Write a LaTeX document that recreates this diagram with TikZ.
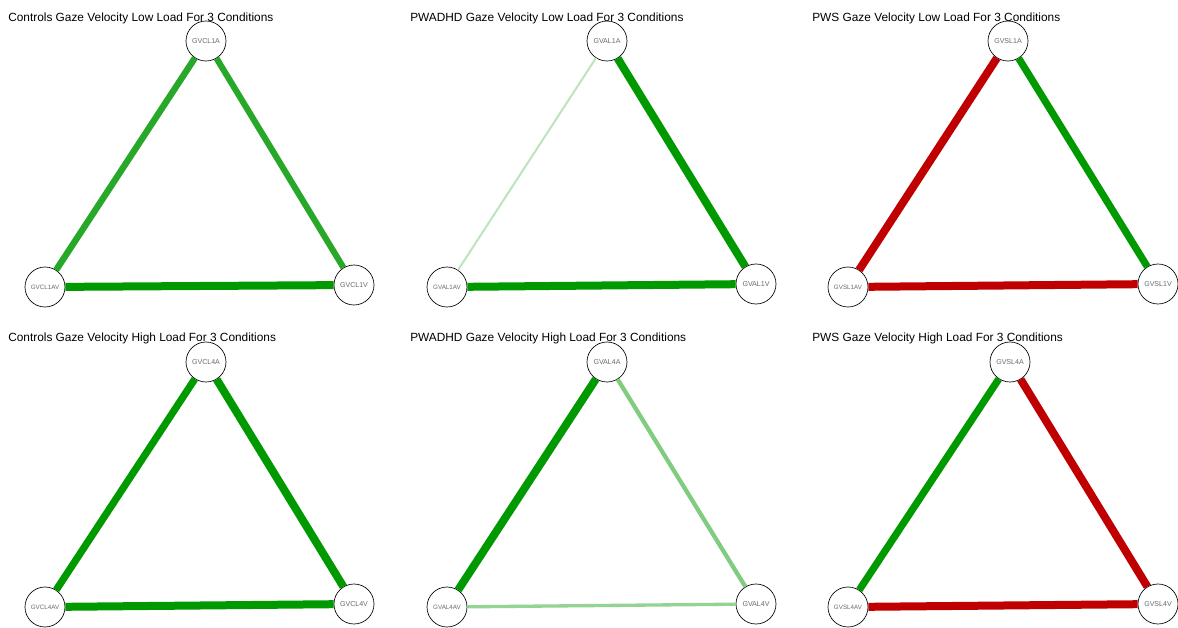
\documentclass[tikz,border=0pt]{standalone}
\usepackage{fontspec}
\setmainfont{Liberation Sans}
\definecolor{gdark}{HTML}{009A00}
\definecolor{gmid}{HTML}{28A828}
\definecolor{gpale}{HTML}{BDE5BD}
\definecolor{gsoft}{HTML}{80CC80}
\definecolor{rdark}{HTML}{C00000}
\definecolor{lblgrey}{RGB}{105,105,115}
\tikzset{
  vnode/.style={circle, draw=black, line width=0.5pt, fill=white, minimum size=30pt,
                inner sep=0pt, font=\fontsize{5.3}{6}\selectfont, text=lblgrey},
  smalllbl/.style={font=\fontsize{4.7}{5}\selectfont},
  ptitle/.style={anchor=west, inner sep=0pt, font=\fontsize{8.9}{10}\selectfont},
  link/.style={draw=#1, line cap=butt},
}
\begin{document}
\begin{tikzpicture}[x=0.75pt, y=-0.75pt]
  \useasboundingbox[fill=white] (0,0) rectangle (1178,628);

  % controls, low load
  \node[vnode] (cl1a) at (206,41) {GVCL1A};
  \node[vnode, smalllbl] (cl1av) at (45,287) {GVCL1AV};
  \node[vnode] (cl1v) at (354,285) {GVCL1V};
  \draw[link=gmid, line width=4.8pt] (cl1a) -- (cl1av);
  \draw[link=gmid, line width=4.6pt] (cl1a) -- (cl1v);
  \draw[link=gdark, line width=6pt] (cl1av) -- (cl1v);
  \node[ptitle] (t1) at (8,18) {Controls Gaze Velocity Low Load For 3 Conditions};

  % pwadhd, low load
  \node[vnode] (al1a) at (607,41) {GVAL1A};
  \node[vnode, smalllbl] (al1av) at (447,287) {GVAL1AV};
  \node[vnode] (al1v) at (756,284) {GVAL1V};
  \draw[link=gpale, line width=1.5pt] (al1a) -- (al1av);
  \draw[link=gdark, line width=6pt] (al1a) -- (al1v);
  \draw[link=gdark, line width=6pt] (al1av) -- (al1v);
  \node[ptitle] (t2) at (410,18) {PWADHD Gaze Velocity Low Load For 3 Conditions};

  % pws, low load
  \node[vnode] (sl1a) at (1008,41) {GVSL1A};
  \node[vnode, smalllbl] (sl1av) at (848,287) {GVSL1AV};
  \node[vnode] (sl1v) at (1158,284) {GVSL1V};
  \draw[link=rdark, line width=6pt] (sl1a) -- (sl1av);
  \draw[link=gdark, line width=5.4pt] (sl1a) -- (sl1v);
  \draw[link=rdark, line width=6pt] (sl1av) -- (sl1v);
  \node[ptitle] (t3) at (812,18) {PWS Gaze Velocity Low Load For 3 Conditions};

  % controls, high load
  \node[vnode] (cl4a) at (206,362) {GVCL4A};
  \node[vnode, smalllbl] (cl4av) at (45,607) {GVCL4AV};
  \node[vnode] (cl4v) at (354,604) {GVCL4V};
  \draw[link=gdark, line width=5.4pt] (cl4a) -- (cl4av);
  \draw[link=gdark, line width=6pt] (cl4a) -- (cl4v);
  \draw[link=gdark, line width=6pt] (cl4av) -- (cl4v);
  \node[ptitle] (t4) at (8,338) {Controls Gaze Velocity High Load For 3 Conditions};

  % pwadhd, high load
  \node[vnode] (al4a) at (607,362) {GVAL4A};
  \node[vnode, smalllbl] (al4av) at (447,607) {GVAL4AV};
  \node[vnode] (al4v) at (756,604) {GVAL4V};
  \draw[link=gdark, line width=6pt] (al4a) -- (al4av);
  \draw[link=gsoft, line width=3.2pt] (al4a) -- (al4v);
  \draw[link=gsoft!85!white, line width=2.5pt] (al4av) -- (al4v);
  \node[ptitle] (t5) at (410,338) {PWADHD Gaze Velocity High Load For 3 Conditions};

  % pws, high load
  \node[vnode] (sl4a) at (1010,362) {GVSL4A};
  \node[vnode, smalllbl] (sl4av) at (848,607) {GVSL4AV};
  \node[vnode] (sl4v) at (1158,604) {GVSL4V};
  \draw[link=gdark, line width=5.4pt] (sl4a) -- (sl4av);
  \draw[link=rdark, line width=6pt] (sl4a) -- (sl4v);
  \draw[link=rdark, line width=6pt] (sl4av) -- (sl4v);
  \node[ptitle] (t6) at (812,338) {PWS Gaze Velocity High Load For 3 Conditions};
\end{tikzpicture}
\end{document}
